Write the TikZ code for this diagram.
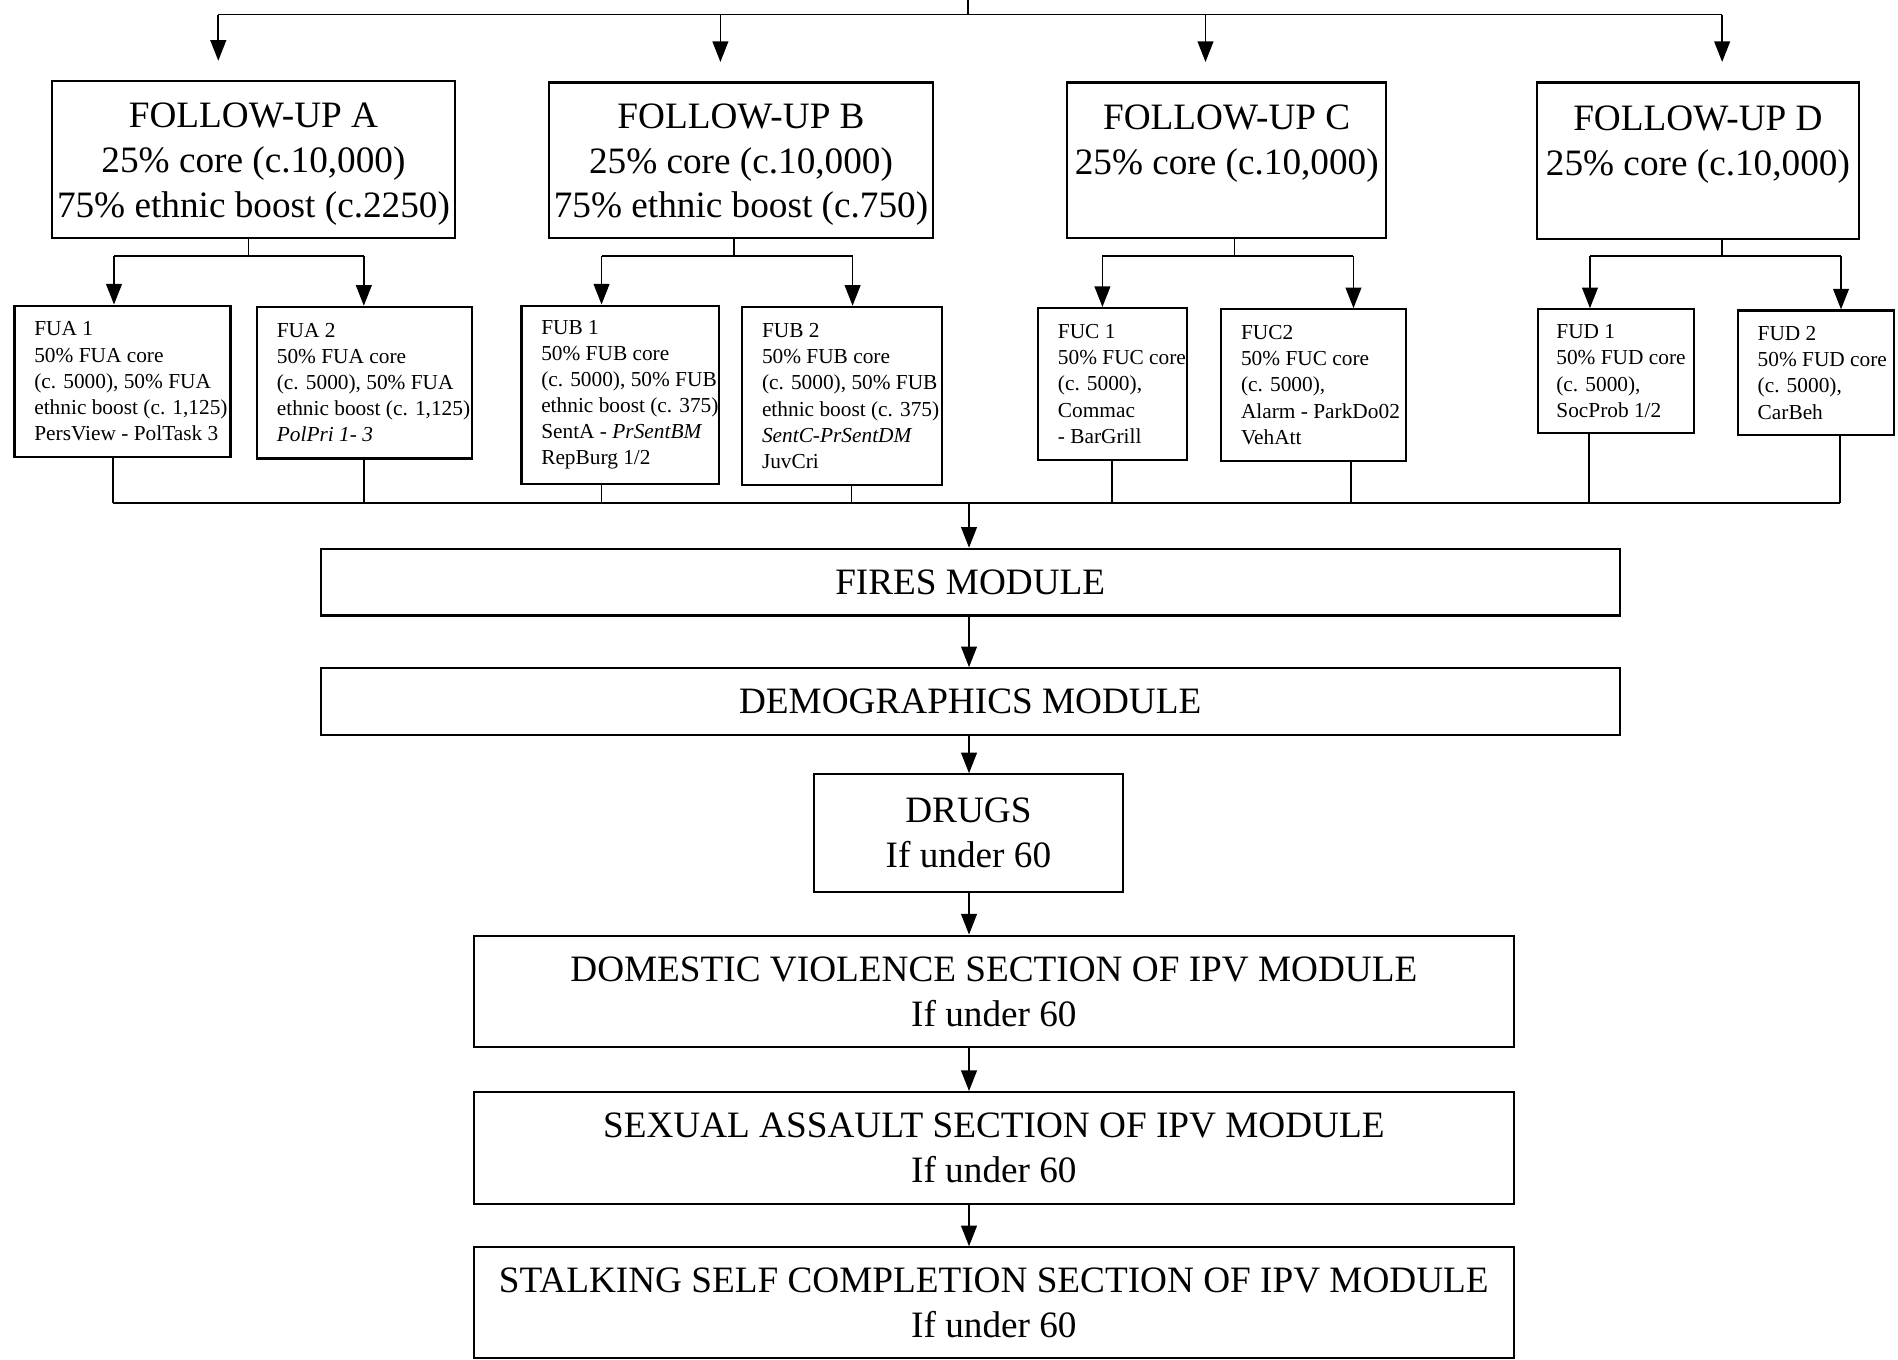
\documentclass[tikz,border=0pt]{standalone}
\usepackage{fontspec}
\setmainfont{Liberation Serif}
\usetikzlibrary{arrows.meta}
\newcommand\BigTxt{\fontsize{30.7pt}{37pt}\selectfont}
\newcommand\SmTxt{\fontsize{17.6pt}{21.6pt}\selectfont}
\begin{document}
\begin{tikzpicture}[x=1pt,y=-1pt,
  box/.style={draw, line width=1.8pt, inner sep=0pt, align=center, font=\BigTxt},
  sbox/.style={draw, line width=1.8pt, inner sep=0pt},
  stxt/.style={inner sep=0pt, align=left, font=\SmTxt, anchor=west},
  conn/.style={line width=1.4pt},
  arr/.style={conn, -{Triangle[length=17pt,width=13pt]}},
]
\useasboundingbox[fill=white] (0,0) rectangle (1565,1121);

% follow-up boxes
\node[box, minimum width=332pt, minimum height=129pt] (fa) at (209,131.5)
  {\rule{0pt}{28pt}FOLLOW-UP A\\25\% core (c.10,000)\\75\% ethnic boost (c.2250)};
\node[box, minimum width=316pt, minimum height=128pt] (fb) at (611,132)
  {\rule{0pt}{28pt}FOLLOW-UP B\\25\% core (c.10,000)\\75\% ethnic boost (c.750)};
\node[box, minimum width=263pt, minimum height=128pt] (fc) at (1011.5,132)
  {\rule{0pt}{24pt}FOLLOW-UP C\\25\% core (c.10,000)\\\mbox{}};
\node[box, minimum width=265pt, minimum height=129pt] (fd) at (1400,132.5)
  {\rule{0pt}{24pt}FOLLOW-UP D\\25\% core (c.10,000)\\\mbox{}};

% sub boxes
\node[sbox, minimum width=178pt, minimum height=125pt] (a1) at (101,314.5) {};
\node[stxt] (a1t) at ([xshift=17pt]a1.west)
  {FUA 1\\50\% FUA core\\(c. 5000), 50\% FUA\\ethnic boost (c. 1,125)\\PersView - PolTask 3};
\node[sbox, minimum width=177pt, minimum height=125pt] (a2) at (300.5,315.5) {};
\node[stxt] (a2t) at ([xshift=17pt]a2.west)
  {FUA 2\\50\% FUA core\\(c. 5000), 50\% FUA\\ethnic boost (c. 1,125)\\\textit{PolPri 1- 3}};
\node[sbox, minimum width=163pt, minimum height=147pt] (b1) at (511.5,325.5) {};
\node[stxt] (b1t) at ([xshift=17pt]b1.west)
  {FUB 1\\50\% FUB core\\(c. 5000), 50\% FUB\\ethnic boost (c. 375)\\SentA - \textit{PrSentBM}\\RepBurg 1/2};
\node[sbox, minimum width=165pt, minimum height=147pt] (b2) at (694.5,326.5) {};
\node[stxt] (b2t) at ([xshift=17pt]b2.west)
  {FUB 2\\50\% FUB core\\(c. 5000), 50\% FUB\\ethnic boost (c. 375)\\\textit{SentC-PrSentDM}\\JuvCri};
\node[sbox, minimum width=123pt, minimum height=125pt] (c1) at (917.5,316.5) {};
\node[stxt] (c1t) at ([xshift=17pt]c1.west)
  {FUC 1\\50\% FUC core\\(c. 5000),\\Commac\\- BarGrill};
\node[sbox, minimum width=152pt, minimum height=125pt] (c2) at (1083,317.5) {};
\node[stxt] (c2t) at ([xshift=17pt]c2.west)
  {FUC2\\50\% FUC core\\(c. 5000),\\Alarm - ParkDo02\\VehAtt};
\node[sbox, minimum width=129pt, minimum height=102pt] (d1) at (1332.5,306) {};
\node[stxt] (d1t) at ([xshift=16pt]d1.west)
  {FUD 1\\50\% FUD core\\(c. 5000),\\SocProb 1/2};
\node[sbox, minimum width=129pt, minimum height=103pt] (d2) at (1497.5,307.5) {};
\node[stxt] (d2t) at ([xshift=17pt]d2.west)
  {FUD 2\\50\% FUD core\\(c. 5000),\\CarBeh};

% lower chain
\node[box, minimum width=1071pt, minimum height=55pt] (fires) at (800,480) {FIRES MODULE};
\node[box, minimum width=1071pt, minimum height=55pt] (demo) at (800,578.5) {DEMOGRAPHICS MODULE};
\node[box, minimum width=255pt, minimum height=97pt] (drugs) at (798.5,687) {DRUGS\\If under 60};
\node[box, minimum width=858pt, minimum height=92pt] (dv) at (819.5,817.5) {DOMESTIC VIOLENCE SECTION OF IPV MODULE\\If under 60};
\node[box, minimum width=858pt, minimum height=92pt] (sa) at (819.5,946.5) {SEXUAL ASSAULT SECTION OF IPV MODULE\\If under 60};
\node[box, minimum width=858pt, minimum height=91pt] (st) at (819.5,1074) {STALKING SELF COMPLETION SECTION OF IPV MODULE\\If under 60};

% top distribution
\coordinate (src) at (798,-2);
\coordinate (bar) at (798,12);
\coordinate (ta) at (180,12);
\coordinate (tb) at (594,12);
\coordinate (tc) at (994,12);
\coordinate (td) at (1420,12);
\draw[conn] (src) -- (bar);
\draw[conn] (ta) -- (td);
\draw[arr, shorten >=16pt] (ta) -- (ta |- fa.north);
\draw[arr, shorten >=16pt] (tb) -- (tb |- fb.north);
\draw[arr, shorten >=16pt] (tc) -- (tc |- fc.north);
\draw[arr, shorten >=16pt] (td) -- (td |- fd.north);

% splits to sub boxes
\coordinate (ja) at (205,211);
\coordinate (jal) at (94,211);  \coordinate (jar) at (300,211);
\draw[conn] (ja |- fa.south) -- (ja);
\draw[conn] (jal) -- (jar);
\draw[arr] (jal) -- (jal |- a1.north);
\draw[arr] (jar) -- (jar |- a2.north);

\coordinate (jb) at (605,211);
\coordinate (jbl) at (496,211);  \coordinate (jbr) at (703,211);
\draw[conn] (jb |- fb.south) -- (jb);
\draw[conn] (jbl) -- (jbr);
\draw[arr] (jbl) -- (jbl |- b1.north);
\draw[arr] (jbr) -- (jbr |- b2.north);

\coordinate (jc) at (1018,211);
\coordinate (jcl) at (909,211);  \coordinate (jcr) at (1116,211);
\draw[conn] (jc |- fc.south) -- (jc);
\draw[conn] (jcl) -- (jcr);
\draw[arr] (jcl) -- (jcl |- c1.north);
\draw[arr] (jcr) -- (jcr |- c2.north);

\coordinate (jd) at (1420,211);
\coordinate (jdl) at (1311,211);  \coordinate (jdr) at (1518,211);
\draw[conn] (jd |- fd.south) -- (jd);
\draw[conn] (jdl) -- (jdr);
\draw[arr] (jdl) -- (jdl |- d1.north);
\draw[arr] (jdr) -- (jdr |- d2.north);

% collector
\coordinate (ca1) at (93,415);
\coordinate (ca2) at (300,415);
\coordinate (cb1) at (496,415);
\coordinate (cb2) at (702,415);
\coordinate (cc1) at (917,415);
\coordinate (cc2) at (1114,415);
\coordinate (cd1) at (1310,415);
\coordinate (cd2) at (1517,415);
\coordinate (cm) at (799,415);
\draw[conn] (ca1 |- a1.south) -- (ca1);
\draw[conn] (ca2 |- a2.south) -- (ca2);
\draw[conn] (cb1 |- b1.south) -- (cb1);
\draw[conn] (cb2 |- b2.south) -- (cb2);
\draw[conn] (cc1 |- c1.south) -- (cc1);
\draw[conn] (cc2 |- c2.south) -- (cc2);
\draw[conn] (cd1 |- d1.south) -- (cd1);
\draw[conn] (cd2 |- d2.south) -- (cd2);
\draw[conn] (ca1) -- (cd2);
\draw[arr] (cm) -- (cm |- fires.north);

% chain arrows
\draw[arr] (cm |- fires.south) -- (cm |- demo.north);
\draw[arr] (cm |- demo.south) -- (cm |- drugs.north);
\draw[arr] (cm |- drugs.south) -- (cm |- dv.north);
\draw[arr] (cm |- dv.south) -- (cm |- sa.north);
\draw[arr] (cm |- sa.south) -- (cm |- st.north);
\end{tikzpicture}
\end{document}
